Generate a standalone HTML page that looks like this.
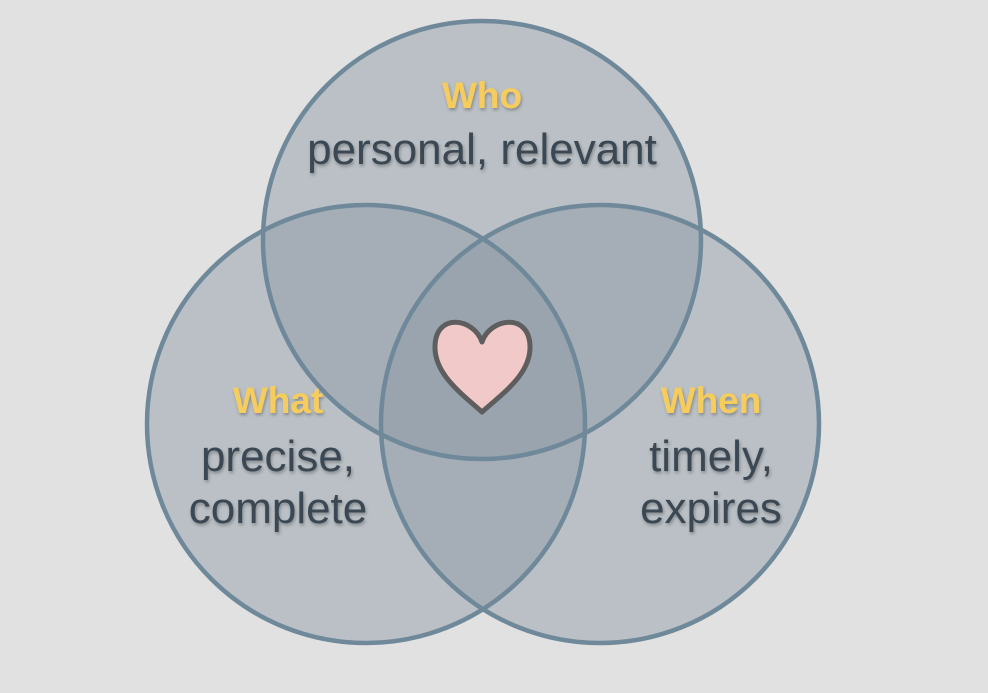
<!DOCTYPE html>
<html><head><style>
html,body{margin:0;padding:0;background:#e1e1e1;}
svg{display:block}
text{font-family:"Liberation Sans",sans-serif;text-anchor:middle;}
.h{fill:#f6cd5b;font-weight:bold;font-size:37px;}
.t{fill:#3a4752;font-size:44px;}
</style></head><body>
<svg width="988" height="693" viewBox="0 0 988 693">
<defs><filter id="s" x="-10%" y="-10%" width="120%" height="130%"><feDropShadow dx="1" dy="2" stdDeviation="1.5" flood-color="#000" flood-opacity="0.3"/></filter></defs>
<rect width="988" height="693" fill="#e1e1e1"/>
<g fill="#8c9aa3" fill-opacity="0.45">
<circle cx="482" cy="240" r="219"/>
<circle cx="366" cy="424" r="219"/>
<circle cx="600" cy="424" r="219"/>
</g>
<g fill="none" stroke="#6f899b" stroke-width="4.5">
<circle cx="482" cy="240" r="219"/>
<circle cx="366" cy="424" r="219"/>
<circle cx="600" cy="424" r="219"/>
</g>
<path d="M482 342 C474 318 436 312 435 346 C434 374 462 394 482 412 C502 394 531 374 530 346 C529 312 490 318 482 342 Z" fill="#f2c9c9" stroke="#5e5e5e" stroke-width="5" stroke-linejoin="round"/>
<g filter="url(#s)">
<text class="h" x="482" y="108">Who</text>
<text class="t" x="482" y="164">personal, relevant</text>
<text class="h" x="278" y="413">What</text>
<text class="t" x="278" y="471">precise,</text>
<text class="t" x="278" y="523">complete</text>
<text class="h" x="711" y="413">When</text>
<text class="t" x="711" y="471">timely,</text>
<text class="t" x="711" y="523">expires</text>
</g>
</svg>
</body></html>
